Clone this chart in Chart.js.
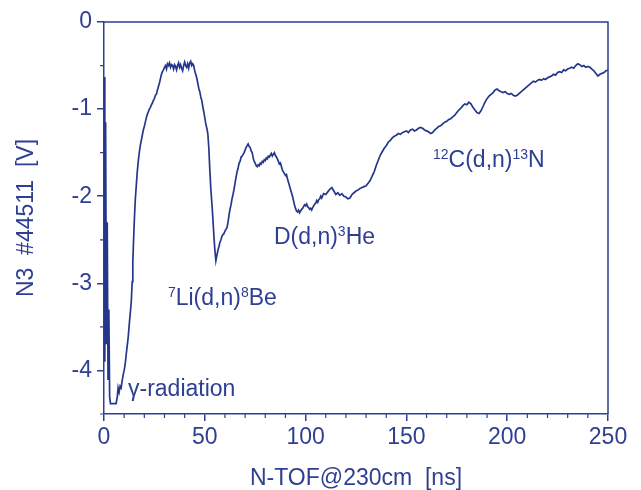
<!DOCTYPE html>
<html><head><meta charset="utf-8">
<script src="https://cdn.jsdelivr.net/npm/chart.js@4/dist/chart.umd.min.js"></script>
<style>html,body{margin:0;padding:0;background:#fff}#wrap{width:641px;height:490px}</style>
</head><body><div id="wrap"><canvas id="c" width="641" height="490"></canvas></div>
<script>
// Time of flight [ns]
const tofNs = [
0,0.4,0.8,1.2,1.6,2.0,2.4,2.8,3.2,4,5,6,6.6,7,7.5,8,8.5,9,9.5,10,10.5,11,11.5,12,12.5,13,13.5,14,14.3,14.6,15,15.5,16,16.5,17,17.5,18,18.5,19,19.5,
20,20.5,21,21.5,22,22.5,23,23.5,24,24.5,25,25.5,26,26.5,27,27.5,28,28.5,29,29.5,30,30.5,31,31.5,32,32.5,33,33.5,34,34.5,35,35.5,36,36.5,37,37.5,38,38.5,39,39.5,
40,40.5,41,41.5,42,42.5,43,43.5,44,44.5,45,45.5,46,46.5,47,47.5,48,48.5,49,49.5,50,50.5,51,51.5,52,52.5,53,53.5,54,54.5,55,55.5,56,56.5,57,57.5,58,58.5,59,59.5,
60,60.5,61,61.5,62,62.5,63,63.5,64,64.5,65,65.5,66,66.5,67,67.5,68,68.5,69,69.5,70,70.5,71,71.5,72,72.5,73,73.5,74,74.5,75,75.5,76,76.5,77,77.5,78,78.5,79,79.5,
80,80.5,81,81.5,82,82.5,83,83.5,84,84.5,85,85.5,86,86.5,87,87.5,88,88.5,89,89.5,90,90.5,91,91.5,92,92.5,93,93.5,94,94.5,95,95.5,96,96.5,97,97.5,98,98.5,99,99.5,
100,100.5,101,101.5,102,102.5,103,103.5,104,104.5,105,105.5,106,106.5,107,107.5,108,108.5,109,110,111,112,113,114,115,116,117,118,119,
120,121,122,123,124,125,126,127,128,129,130,131,132,133,134,135,136,137,138,139,
140,141,142,143,144,145,146,147,148,149,150,151,152,153,154,155,156,157,158,159,
160,161,162,163,164,165,166,167,168,169,170,171,172,173,174,175,176,177,178,179,
180,181,182,183,184,185,186,187,188,189,190,191,192,193,194,195,196,197,198,199,
200,201,202,203,204,205,206,207,208,209,210,211,212,213,214,215,216,217,218,219,
220,221,222,223,224,225,226,227,228,229,230,231,232,233,234,235,236,237,238,239,
240,241,242,243,244,245,246,247,248,249,250
];
// Detector signal N3 #44511 [V]
const signalV = [
-0.63,-3.9,-1.15,-3.7,-2.3,-4.1,-3.3,-4.3,-4.38,-4.38,-4.38,-4.38,-4.3,-4.2,-4.25,-4.18,-4.2,-4.12,-4.05,-4.0,-3.93,-3.82,-3.72,-3.62,-3.48,-3.35,-3.22,-2.98,-2.75,-2.55,-2.3,-2.05,-1.88,-1.72,-1.6,-1.5,-1.42,-1.36,-1.3,-1.24,
-1.2,-1.15,-1.1,-1.06,-1.03,-1.0,-0.98,-0.95,-0.93,-0.9,-0.88,-0.84,-0.83,-0.78,-0.74,-0.7,-0.65,-0.6,-0.57,-0.55,-0.52,-0.5,-0.54,-0.48,-0.5,-0.47,-0.52,-0.49,-0.5,-0.54,-0.49,-0.51,-0.55,-0.5,-0.47,-0.52,-0.49,-0.53,-0.56,-0.5,
-0.46,-0.5,-0.52,-0.48,-0.53,-0.47,-0.45,-0.5,-0.48,-0.5,-0.56,-0.6,-0.64,-0.7,-0.76,-0.8,-0.86,-0.9,-0.97,-1.03,-1.1,-1.17,-1.22,-1.28,-1.45,-1.7,-1.92,-2.08,-2.25,-2.45,-2.62,-2.74,-2.68,-2.62,-2.58,-2.53,-2.5,-2.46,-2.44,-2.43,
-2.4,-2.38,-2.36,-2.3,-2.22,-2.15,-2.1,-2.03,-1.98,-1.92,-1.85,-1.78,-1.72,-1.68,-1.62,-1.6,-1.55,-1.54,-1.52,-1.5,-1.47,-1.44,-1.42,-1.4,-1.43,-1.44,-1.48,-1.5,-1.56,-1.6,-1.62,-1.65,-1.66,-1.64,-1.65,-1.62,-1.63,-1.6,-1.61,-1.58,
-1.59,-1.56,-1.57,-1.54,-1.55,-1.53,-1.51,-1.54,-1.52,-1.5,-1.53,-1.55,-1.57,-1.6,-1.63,-1.62,-1.66,-1.7,-1.72,-1.74,-1.76,-1.75,-1.8,-1.84,-1.88,-1.92,-1.96,-2.0,-2.05,-2.1,-2.14,-2.17,-2.18,-2.16,-2.19,-2.17,-2.15,-2.14,-2.12,-2.1,
-2.11,-2.09,-2.12,-2.13,-2.15,-2.14,-2.16,-2.13,-2.11,-2.09,-2.08,-2.05,-2.07,-2.04,-2.03,-2.0,-2.02,-1.99,-1.97,-1.98,-1.95,-1.92,-1.9,-1.94,-1.98,-1.96,-1.99,-1.97,-2.0,
-2.01,-2.03,-2.02,-1.98,-1.96,-1.94,-1.93,-1.91,-1.9,-1.89,-1.88,-1.85,-1.82,-1.77,-1.72,-1.65,-1.59,-1.53,-1.49,-1.45,
-1.42,-1.38,-1.36,-1.33,-1.31,-1.3,-1.28,-1.29,-1.27,-1.26,-1.25,-1.27,-1.24,-1.23,-1.25,-1.24,-1.22,-1.21,-1.22,-1.24,
-1.25,-1.26,-1.28,-1.27,-1.24,-1.22,-1.2,-1.19,-1.17,-1.15,-1.14,-1.12,-1.11,-1.09,-1.07,-1.04,-1.01,-0.99,-0.96,-0.94,
-0.95,-0.92,-0.94,-0.98,-1.01,-1.04,-1.05,-1.02,-0.97,-0.92,-0.88,-0.85,-0.83,-0.81,-0.78,-0.77,-0.79,-0.8,-0.81,-0.8,
-0.82,-0.83,-0.82,-0.84,-0.85,-0.84,-0.82,-0.8,-0.78,-0.76,-0.74,-0.72,-0.7,-0.68,-0.69,-0.67,-0.66,-0.67,-0.65,-0.66,
-0.64,-0.63,-0.62,-0.6,-0.61,-0.58,-0.57,-0.58,-0.55,-0.56,-0.54,-0.53,-0.52,-0.53,-0.5,-0.48,-0.49,-0.51,-0.5,-0.52,
-0.51,-0.52,-0.54,-0.56,-0.59,-0.62,-0.6,-0.59,-0.58,-0.56,-0.55
];
const xTickValues = [0,50,100,150,200,250];
const xMinorValues = [10,20,30,40,60,70,80,90,110,120,130,140,160,170,180,190,210,220,230,240];
const yTickValues = [0,-1,-2,-3,-4];
const yMinorValues = [-0.5,-1.5,-2.5,-3.5,-4.5];

const INK = '#2e3f93';
const LINE = '#25378b';
const FONT = "'Liberation Sans', Arial, sans-serif";

const annotations = [
  {x: 11.9, y: -4.29, parts: [['γ-radiation', false]]},
  {x: 31.7, y: -3.25, parts: [['7', true], ['Li(d,n)', false], ['8', true], ['Be', false]]},
  {x: 84.3, y: -2.55, parts: [['D(d,n)', false], ['3', true], ['He', false]]},
  {x: 163.2, y: -1.66, parts: [['12', true], ['C(d,n)', false], ['13', true], ['N', false]]}
];

const points = tofNs.map((t, i) => ({x: t, y: signalV[i]}));

const decor = {
  id: 'decor',
  afterDraw(chart) {
    const {ctx, chartArea: a, scales: {x, y}} = chart;
    ctx.save();
    ctx.strokeStyle = INK;
    ctx.lineWidth = 1.5;
    ctx.beginPath();
    ctx.moveTo(a.left, a.top); ctx.lineTo(a.right, a.top); ctx.lineTo(a.right, a.bottom);
    ctx.stroke();
    ctx.lineWidth = 1.2;
    ctx.beginPath();
    xMinorValues.forEach(v => { const px = x.getPixelForValue(v); ctx.moveTo(px, a.bottom); ctx.lineTo(px, a.bottom + 4); });
    yMinorValues.forEach(v => { const py = y.getPixelForValue(v); ctx.moveTo(a.left, py); ctx.lineTo(a.left - 4, py); });
    ctx.stroke();
    ctx.fillStyle = INK;
    ctx.textBaseline = 'alphabetic';
    ctx.textAlign = 'left';
    annotations.forEach(an => {
      let px = x.getPixelForValue(an.x);
      const py = y.getPixelForValue(an.y);
      an.parts.forEach(([txt, sup]) => {
        ctx.font = (sup ? '14px ' : '23px ') + FONT;
        ctx.fillText(txt, px, sup ? py - 8 : py);
        px += ctx.measureText(txt).width;
      });
    });
    ctx.restore();
  }
};

new Chart(document.getElementById('c'), {
  type: 'line',
  data: { datasets: [{ data: points, borderColor: LINE, borderWidth: 1.7, pointRadius: 0, tension: 0, fill: false }] },
  options: {
    responsive: false,
    animation: false,
    layout: { padding: { left: 0, right: 33, top: 22, bottom: 0 } },
    plugins: { legend: { display: false }, tooltip: { enabled: false } },
    scales: {
      x: {
        type: 'linear', min: 0, max: 250,
        afterBuildTicks: s => { s.ticks = xTickValues.map(v => ({value: v})); },
        afterFit: s => { s.height = 76; },
        ticks: { color: INK, font: { family: FONT, size: 23 }, padding: 3, maxRotation: 0 },
        grid: { drawOnChartArea: false, drawTicks: true, tickLength: 7, color: INK, lineWidth: 1.5 },
        border: { color: INK, width: 1.5 },
        title: { display: true, text: 'N-TOF@230cm  [ns]', color: INK, font: { family: FONT, size: 23, lineHeight: 1 }, padding: { top: 0, bottom: 0 } }
      },
      y: {
        type: 'linear', min: -4.5, max: 0,
        afterBuildTicks: s => { s.ticks = yTickValues.map(v => ({value: v})); },
        afterFit: s => { s.width = 104; },
        ticks: { color: INK, font: { family: FONT, size: 23 }, padding: 5 },
        grid: { drawOnChartArea: false, drawTicks: true, tickLength: 7, color: INK, lineWidth: 1.5 },
        border: { color: INK, width: 1.5 },
        title: { display: true, text: 'N3  #44511  [V]', color: INK, font: { family: FONT, size: 23, lineHeight: 1 }, padding: { top: 15, bottom: 0 } }
      }
    }
  },
  plugins: [decor]
});
</script>
</body></html>
